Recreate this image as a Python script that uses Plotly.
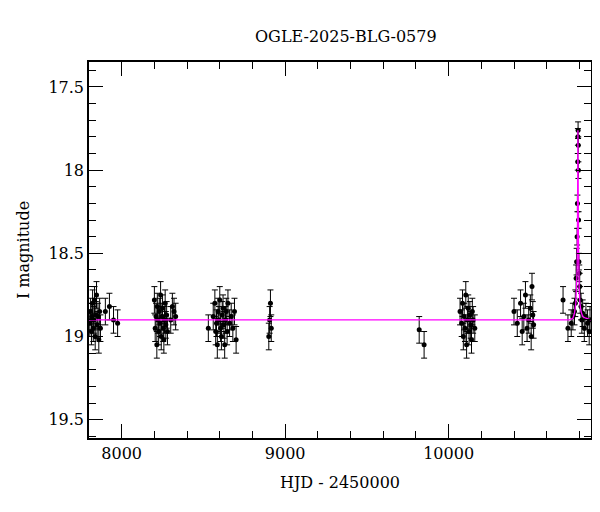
import plotly.graph_objects as go

hjd = [7805,7810,7815,7818,7822,7826,7830,7834,7838,7842,7846,7850,7855,7860,7865,7870,7900,7925,7950,7975,
       8200,8205,8210,8215,8218,8222,8226,8230,8234,8238,8242,8246,8250,8254,8258,8262,8266,8270,8275,8280,8300,8310,8320,8330,
       8530,8560,8570,8575,8580,8585,8590,8595,8600,8605,8610,8615,8620,8625,8630,8635,8640,8645,8650,8660,8670,8680,8690,8700,
       8900,8905,8910,8915,
       9820,9850,
       10070,10080,10085,10090,10095,10100,10105,10110,10115,10120,10125,10130,10135,10140,10145,10150,10160,
       10400,10420,10440,10450,10460,10470,10480,10490,10500,10505,10510,10515,10520,
       10700,10730,10750,10760,10770,10775,10780,10783,10786,10788,10790,10791,10792,10793,10794,10795,10797,10799,10802,10805,10810,10815,10820,10830,10840,10850,10860,10865]
mag = [18.92,18.85,18.97,18.88,18.8,18.95,18.9,18.78,19.0,18.87,18.75,18.93,18.88,19.02,18.85,18.95,18.85,18.82,18.9,18.92,
       18.78,18.95,18.88,19.05,18.82,18.9,18.97,18.85,18.92,18.75,19.0,18.88,18.83,18.95,19.02,18.9,18.8,18.93,18.87,18.97,18.9,18.82,18.85,18.88,
       18.95,18.88,18.8,18.97,18.92,19.05,18.85,18.9,18.78,18.95,19.0,18.87,18.83,18.93,19.05,18.9,18.85,18.97,18.8,18.92,18.88,18.95,18.85,19.02,
       19.0,18.9,18.8,18.95,
       18.96,19.05,
       18.85,18.92,18.8,19.0,18.88,18.95,18.75,19.05,18.9,18.83,18.97,18.87,18.93,19.02,18.85,18.9,18.95,
       18.85,18.92,18.8,18.97,18.88,18.75,18.95,18.9,18.83,19.0,18.7,18.87,18.93,
       18.78,18.95,18.92,18.88,18.85,18.8,18.65,18.55,18.4,18.2,17.95,17.8,17.76,17.85,18.0,18.3,18.55,18.62,18.7,18.78,18.82,18.9,18.86,18.95,18.88,18.92,18.97,18.9]
err = [0.08 if t < 10785 or t > 10800 else 0.05 for t in hjd]

model_t = [7800,10740,10760,10770,10778,10783,10786,10788,10790,10791,10792,10794,10796,10799,10803,10810,10820,10840,10871]
model_m = [18.9,18.9,18.89,18.86,18.8,18.72,18.6,18.4,17.95,17.76,17.95,18.4,18.6,18.72,18.8,18.85,18.88,18.89,18.9]

fig = go.Figure()
fig.add_trace(go.Scatter(x=hjd, y=mag, mode="markers",
    marker=dict(color="black", size=5),
    error_y=dict(type="data", array=err, color="black", thickness=1, width=3)))
fig.add_trace(go.Scatter(x=model_t, y=model_m, mode="lines", line=dict(color="#ff00ff", width=1.3)))

ax = dict(showline=True, linecolor="black", linewidth=1.5, mirror="ticks", ticks="inside",
          ticklen=14, tickcolor="black", showgrid=False, zeroline=False,
          tickfont=dict(size=16, color="black"))
fig.update_xaxes(**ax, range=[7800,10871], tickvals=[8000,9000,10000], ticktext=["8000","9000","10000"],
                 minor=dict(ticks="inside", ticklen=7, tickvals=list(range(7800,10872,200)), tickcolor="black"),
                 title=dict(text="HJD - 2450000", font=dict(size=16, color="black")))
fig.update_yaxes(**ax, range=[19.61,17.35], tickvals=[17.5,18,18.5,19,19.5], ticktext=["17.5","18","18.5","19","19.5"],
                 minor=dict(ticks="inside", ticklen=7, dtick=0.1, tickcolor="black"),
                 title=dict(text="I magnitude", font=dict(size=16, color="black")))
fig.update_layout(width=600, height=512, showlegend=False,
    plot_bgcolor="white", paper_bgcolor="white",
    font=dict(family="DejaVu Serif", color="black"),
    title=dict(text="OGLE-2025-BLG-0579", x=0.563, y=0.955, xanchor="center", font=dict(size=16, color="black")),
    margin=dict(l=81, r=17, t=54, b=82, autoexpand=False))
fig.write_html("out.html")
